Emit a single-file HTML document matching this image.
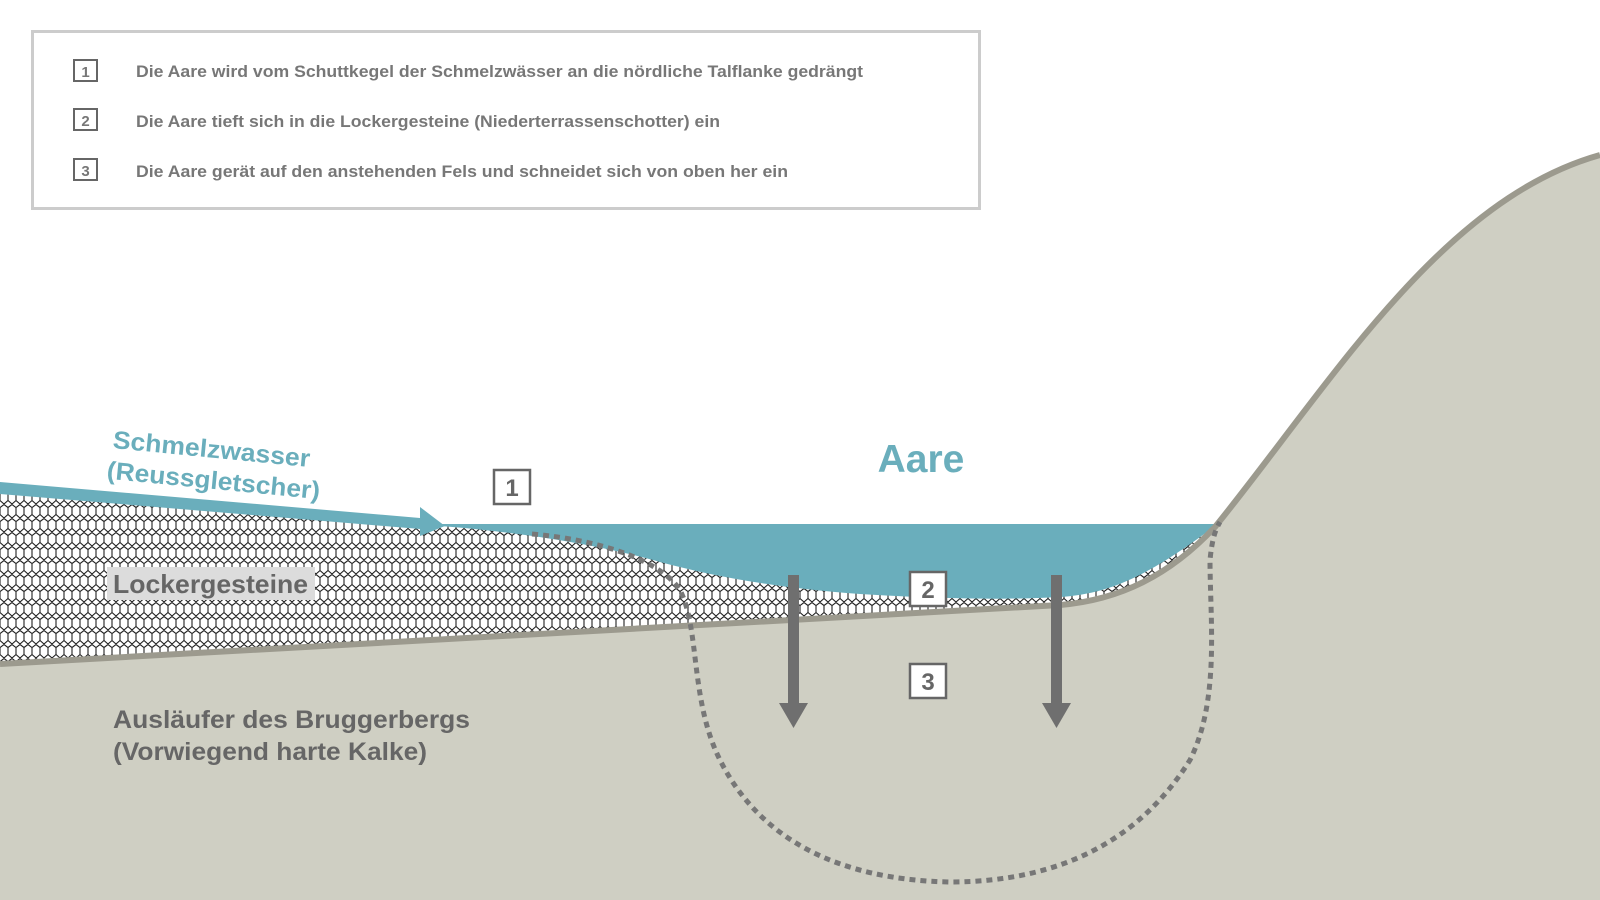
<!DOCTYPE html>
<html><head><meta charset="utf-8"><style>
html,body{margin:0;padding:0;background:#fff;}
svg{display:block;}
text{font-family:"Liberation Sans",Arial,sans-serif;font-weight:bold;}
</style></head><body>
<svg width="1600" height="900" viewBox="0 0 1600 900" xmlns="http://www.w3.org/2000/svg">
<defs>
<pattern id="grav" width="16" height="14" patternUnits="userSpaceOnUse">
<rect width="16" height="14" fill="#fff"/>
<path d="M0,3.5 L4,0.5 L8,3.5 L12,0.5 L16,3.5 M0,3.5 L0,10.5 M8,3.5 L8,10.5 M16,3.5 L16,10.5 M0,10.5 L4,14 L8,10.5 L12,14 L16,10.5 M4,0 L4,0.5 M12,0 L12,0.5" stroke="#222" stroke-width="1.1" fill="none"/>
</pattern>
</defs>
<!-- legend -->
<rect x="32.5" y="31.5" width="947" height="177" fill="#fff" stroke="#ccc" stroke-width="3"/>
<g fill="none" stroke="#666" stroke-width="2">
<rect x="74" y="60" width="23" height="21"/>
<rect x="74" y="109" width="23" height="21"/>
<rect x="74" y="159" width="23" height="21"/>
</g>
<g fill="#777" font-size="17">
<text x="85.5" y="77" text-anchor="middle" font-size="15" font-weight="normal">1</text>
<text x="85.5" y="126" text-anchor="middle" font-size="15" font-weight="normal">2</text>
<text x="85.5" y="176" text-anchor="middle" font-size="15" font-weight="normal">3</text>
<text x="136" y="77" textLength="727" lengthAdjust="spacingAndGlyphs">Die Aare wird vom Schuttkegel der Schmelzwässer an die nördliche Talflanke gedrängt</text>
<text x="136" y="127" textLength="584" lengthAdjust="spacingAndGlyphs">Die Aare tieft sich in die Lockergesteine (Niederterrassenschotter) ein</text>
<text x="136" y="177" textLength="652" lengthAdjust="spacingAndGlyphs">Die Aare gerät auf den anstehenden Fels und schneidet sich von oben her ein</text>
</g>
<!-- water -->
<path d="M420,524 L1220,524 L1220,600 L420,600 Z" fill="#6aaebc"/>
<!-- gravel -->
<path d="M0,494 L440,526 C520,532 600,545 660,562 C720,578 780,588 860,594 C940,599 1010,600 1060,597 C1110,594 1150,575 1215,526 L1215,640 L0,665 Z" fill="url(#grav)"/>
<!-- bedrock -->
<path d="M0,664 L1060,605 C1120,600 1170,575 1215,527 C1330,385 1440,200 1600,155 L1600,900 L0,900 Z" fill="#cfcfc3"/>
<path d="M0,664 L1060,605 C1120,600 1170,575 1215,527 C1330,385 1440,200 1600,155" fill="none" stroke="#9c9a8e" stroke-width="6"/>
<!-- meltwater arrow -->
<path d="M0,482 L420,518 L420,507 L445,526 L420,536 L420,529 L0,494 Z" fill="#6aaebc"/>
<!-- dotted -->
<path d="M532,534 C600,540 660,560 680,590 C700,630 690,700 720,760 C760,840 840,880 950,882 C1060,882 1140,840 1190,760 C1220,700 1210,620 1210,560 C1212,540 1215,530 1220,522" fill="none" stroke="#777" stroke-width="5" stroke-dasharray="6,5"/>
<!-- arrows -->
<g fill="#6f6f6f">
<rect x="788" y="575" width="11" height="132"/>
<path d="M779,703 L808,703 L793.5,728 Z"/>
<rect x="1051" y="575" width="11" height="132"/>
<path d="M1042,703 L1071,703 L1056.5,728 Z"/>
</g>
<!-- number boxes -->
<g stroke="#666" stroke-width="2.5" fill="#fff">
<rect x="494" y="470" width="36" height="34" fill="none"/>
<rect x="910" y="572" width="36" height="34"/>
<rect x="910" y="664" width="36" height="34"/>
</g>
<g fill="#666" font-size="24" text-anchor="middle">
<text x="512" y="496">1</text>
<text x="928" y="598">2</text>
<text x="928" y="690">3</text>
</g>
<!-- labels -->
<text x="921" y="472" text-anchor="middle" font-size="39" fill="#6aaebc">Aare</text>
<g fill="#6aaebc" font-size="25" transform="rotate(5.5 112 440)">
<text x="113" y="448" textLength="198" lengthAdjust="spacingAndGlyphs">Schmelzwasser</text>
<text x="110" y="479" textLength="214" lengthAdjust="spacingAndGlyphs">(Reussgletscher)</text>
</g>
<rect x="107" y="567" width="208" height="33" fill="#dcdcdc"/>
<text x="113" y="593" font-size="26" fill="#666" textLength="195" lengthAdjust="spacingAndGlyphs">Lockergesteine</text>
<g fill="#666" font-size="25">
<text x="113" y="728" textLength="357" lengthAdjust="spacingAndGlyphs">Ausläufer des Bruggerbergs</text>
<text x="113" y="760" textLength="314" lengthAdjust="spacingAndGlyphs">(Vorwiegend harte Kalke)</text>
</g>
</svg>
</body></html>
